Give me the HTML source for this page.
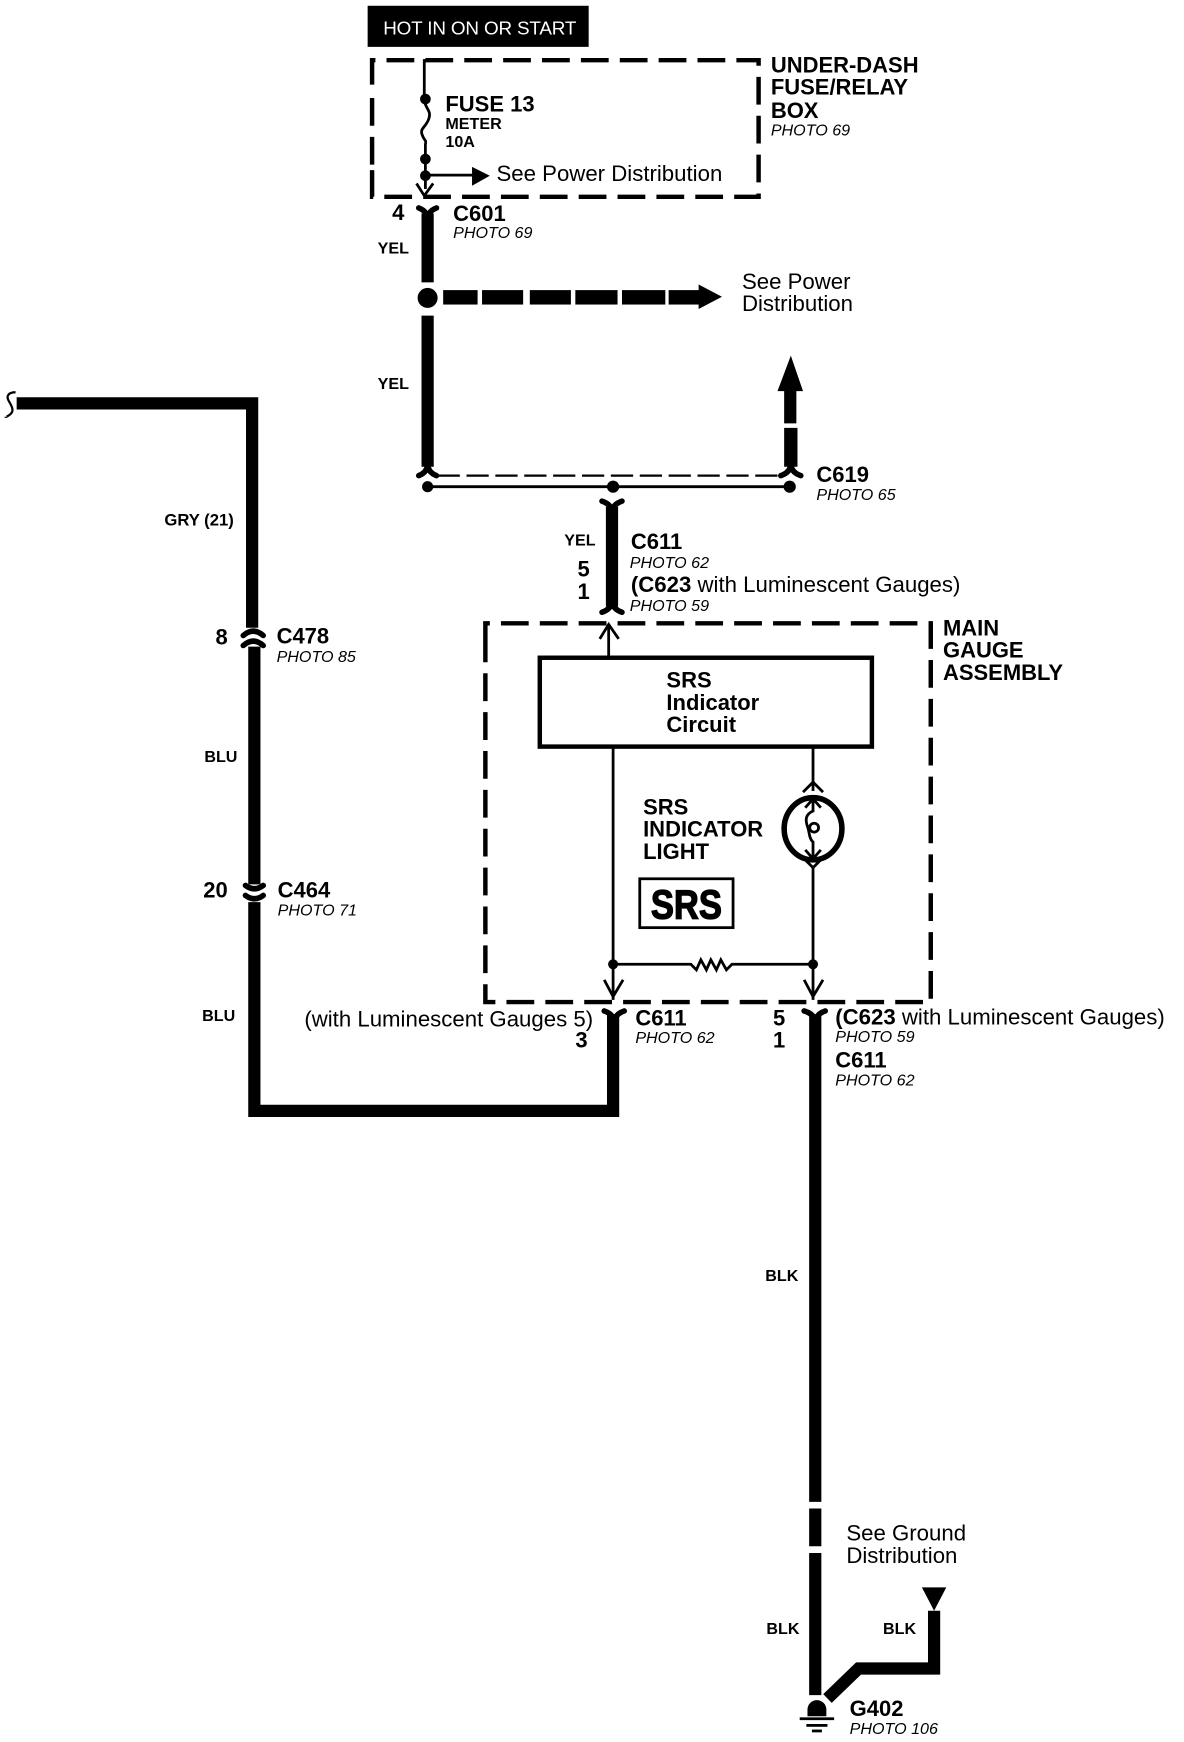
<!DOCTYPE html>
<html><head><meta charset="utf-8"><style>
html,body{margin:0;padding:0;background:#fff}
svg{display:block}
text{font-family:"Liberation Sans",Arial,sans-serif;fill:#000}
.b{font-weight:bold;font-size:19.8px}
.s{font-weight:bold;font-size:14.5px}
.p{font-style:italic;font-size:14.5px}
.n{font-size:20px}
.t{fill:none;stroke:#000;stroke-width:2.5}
.d{fill:none;stroke:#000;stroke-width:4;stroke-dasharray:25 10}
.w{fill:none;stroke:#000;stroke-width:11}
.c{fill:none;stroke:#000;stroke-width:5;stroke-linecap:round}
</style></head><body>
<svg width="1184" height="1742" viewBox="0 0 1066 1568" xmlns="http://www.w3.org/2000/svg">
<rect width="1066" height="1568" fill="#fff"/>
<rect x="331" y="5" width="199" height="37" fill="#000"/>
<text x="345" y="31" style="fill:#fff;font-size:17px" textLength="174">HOT IN ON OR START</text>

<path class="d" d="M335 76V54H683V177H335V150"/>
<path class="d" d="M335 148V80" />
<path class="t" d="M382 53V89c0 8 7 10 4 18s-8 8-6 14 4 4 3 9V170"/>
<circle cx="383" cy="89" r="4.800"/><circle cx="383" cy="143" r="4.800"/>
<circle cx="383" cy="158" r="4.800"/>
<path d="M383 157.500H425" class="t"/><path d="M425 150L441 158L425 167Z"/>
<path class="t" d="M375 165L382 176L390 165"/>
<text class="b" x="401" y="100">FUSE 13</text>
<text class="s" x="401" y="116">METER</text>
<text class="s" x="401" y="132">10A</text>
<text class="n" x="447" y="163">See Power Distribution</text>
<text class="b" x="694" y="65">UNDER-DASH</text>
<text class="b" x="694" y="85">FUSE/RELAY</text>
<text class="b" x="694" y="106">BOX</text>
<text class="p" x="694" y="122">PHOTO 69</text>

<text class="b" x="353" y="198">4</text>
<text class="b" x="408" y="199">C601</text>
<text class="p" x="408" y="214">PHOTO 69</text>
<path class="w" d="M385 192V254"/>
<path class="c" d="M377 187Q385 190 385 198Q385 190 393 187"/>
<text class="s" x="340" y="228">YEL</text>
<circle cx="385" cy="268" r="9"/>
<g>
<rect x="399" y="261" width="31" height="13"/><rect x="434" y="261" width="37" height="13"/>
<rect x="477" y="261" width="37" height="13"/><rect x="518" y="261" width="38" height="13"/>
<rect x="560" y="261" width="39" height="13"/><rect x="602" y="261" width="28" height="13"/>
<path d="M629 256L650 267L629 278Z"/>
</g>
<text class="n" x="668" y="260">See Power</text>
<text class="n" x="668" y="280">Distribution</text>

<path class="w" d="M385 284V420"/>
<text class="s" x="340" y="350">YEL</text>
<path class="c" d="M377 428Q385 425 385 417Q385 425 393 428"/>
<path d="M706 381V352H700L712 320L723 352H717V381Z"/>
<path d="M706 385H718V420H706Z"/>
<path class="c" d="M703 428Q712 425 712 417Q712 425 721 428"/>
<path d="M394 428H702" fill="none" stroke="#000" stroke-width="2" stroke-dasharray="20 6"/>
<path d="M385 438H712" fill="none" stroke="#000" stroke-width="2.500"/>
<circle cx="385" cy="438" r="5"/><circle cx="552" cy="438" r="5.500"/><circle cx="711" cy="438" r="5.500"/>
<text class="b" x="735" y="434">C619</text>
<text class="p" x="735" y="450">PHOTO 65</text>

<path class="w" d="M551 456V546"/>
<path class="c" d="M542 451Q551 454 551 462Q551 454 560 451"/>
<path class="c" d="M542 551Q551 548 551 540Q551 548 560 551"/>
<text class="s" x="508" y="491">YEL</text>
<text class="b" x="520" y="519">5</text>
<text class="b" x="520" y="539">1</text>
<text class="b" x="568" y="494">C611</text>
<text class="p" x="567" y="511">PHOTO 62</text>
<text class="n" x="568" y="533"><tspan font-weight="bold">(C623</tspan> with Luminescent Gauges)</text>
<text class="p" x="567" y="550">PHOTO 59</text>

<path class="d" d="M437 582V561H838V902H437V580"/>
<path class="t" d="M548 592V562M540 575L548 562L557 575"/>
<rect x="486" y="592" width="299" height="80" fill="#fff" stroke="#000" stroke-width="4"/>
<text class="b" x="600" y="619">SRS</text>
<text class="b" x="600" y="639">Indicator</text>
<text class="b" x="600" y="659">Circuit</text>
<text class="b" x="849" y="572">MAIN</text>
<text class="b" x="849" y="592">GAUGE</text>
<text class="b" x="849" y="612">ASSEMBLY</text>

<path class="t" d="M552 672V900"/>
<path class="t" d="M732 672V712M732 780V900"/>
<ellipse cx="732" cy="746" rx="26" ry="28" fill="none" stroke="#000" stroke-width="5"/>
<path class="t" d="M723 713L732 704L741 713M723 772L732 781L741 772"/>
<path class="t" d="M725 727L732 719L739 727M725 765L732 773L739 765"/>
<path class="t" d="M732 720V730c-7 3-7 8-5 14 2 5 1 10 5 14V772"/>
<circle cx="733" cy="745" r="4" fill="none" stroke="#000" stroke-width="2.500"/>
<text class="b" x="579" y="733">SRS</text>
<text class="b" x="579" y="753">INDICATOR</text>
<text class="b" x="579" y="773">LIGHT</text>
<rect x="576" y="791" width="84" height="44" fill="none" stroke="#000" stroke-width="2.500"/>
<text x="586" y="827" style="font-weight:bold;font-size:37px;stroke:#000;stroke-width:1.200" textLength="64" lengthAdjust="spacingAndGlyphs">SRS</text>
<circle cx="552" cy="868" r="4.500"/><circle cx="732" cy="868" r="4.500"/>
<path class="t" d="M552 868H622L627 873L631 864L636 873L640 864L645 873L649 864L654 873L659 868H732"/>
<path class="t" d="M544 882L552 897L561 882M724 882L732 897L741 882"/>

<text class="n" x="534" y="924" text-anchor="end">(with Luminescent Gauges 5)</text>
<text class="b" x="518" y="943">3</text>
<text class="b" x="572" y="923">C611</text>
<text class="p" x="572" y="939">PHOTO 62</text>
<text class="b" x="696" y="923">5</text>
<text class="b" x="696" y="943">1</text>
<text class="n" x="752" y="922"><tspan font-weight="bold">(C623</tspan> with Luminescent Gauges)</text>
<text class="p" x="752" y="938">PHOTO 59</text>
<text class="b" x="752" y="961">C611</text>
<text class="p" x="752" y="977">PHOTO 62</text>

<path class="c" d="M544 910Q553 913 553 921Q553 913 562 910"/>
<path class="c" d="M724 910Q734 913 734 921Q734 913 743 910"/>
<path class="w" d="M552 914V1000H229V812"/>
<path class="c" d="M221 797Q229 803 237 797"/>
<path class="c" d="M221 806Q229 812 237 806"/>
<path class="w" d="M229 796V582"/>
<path class="c" d="M219 581Q228 573 237 581"/>
<path class="c" d="M219 572Q228 564 237 572"/>
<path class="w" d="M227 565V363H15"/>
<path d="M14 353C8 353 5 356 8 361S13 370 9 373 5 375 5 375" fill="none" stroke="#000" stroke-width="2"/>
<text class="s" x="148" y="473" style="font-size:15px">GRY (21)</text>
<text class="b" x="194" y="580">8</text>
<text class="b" x="249" y="579">C478</text>
<text class="p" x="249" y="596">PHOTO 85</text>
<text class="s" x="184" y="686">BLU</text>
<text class="b" x="183" y="808">20</text>
<text class="b" x="250" y="808">C464</text>
<text class="p" x="250" y="824">PHOTO 71</text>
<text class="s" x="182" y="919">BLU</text>

<path class="w" d="M734 914V1352M734 1358V1392M734 1398V1526"/>
<text class="s" x="689" y="1153">BLK</text>
<text class="n" x="762" y="1387">See Ground</text>
<text class="n" x="762" y="1407">Distribution</text>
<text class="s" x="690" y="1471">BLK</text>
<text class="s" x="795" y="1471">BLK</text>
<path d="M830 1429H852L841 1450Z"/>
<path class="w" d="M841 1450V1502H773L745 1529"/>
<path d="M727 1545V1539A8 8 0 0 1 744 1539V1545Z"/>
<rect x="720" y="1546" width="31" height="2.500"/><rect x="726" y="1552" width="19" height="2.500"/><rect x="731" y="1557" width="9" height="2.500"/>
<text class="b" x="765" y="1545">G402</text>
<text class="p" x="765" y="1561">PHOTO 106</text>
</svg>
</body></html>
